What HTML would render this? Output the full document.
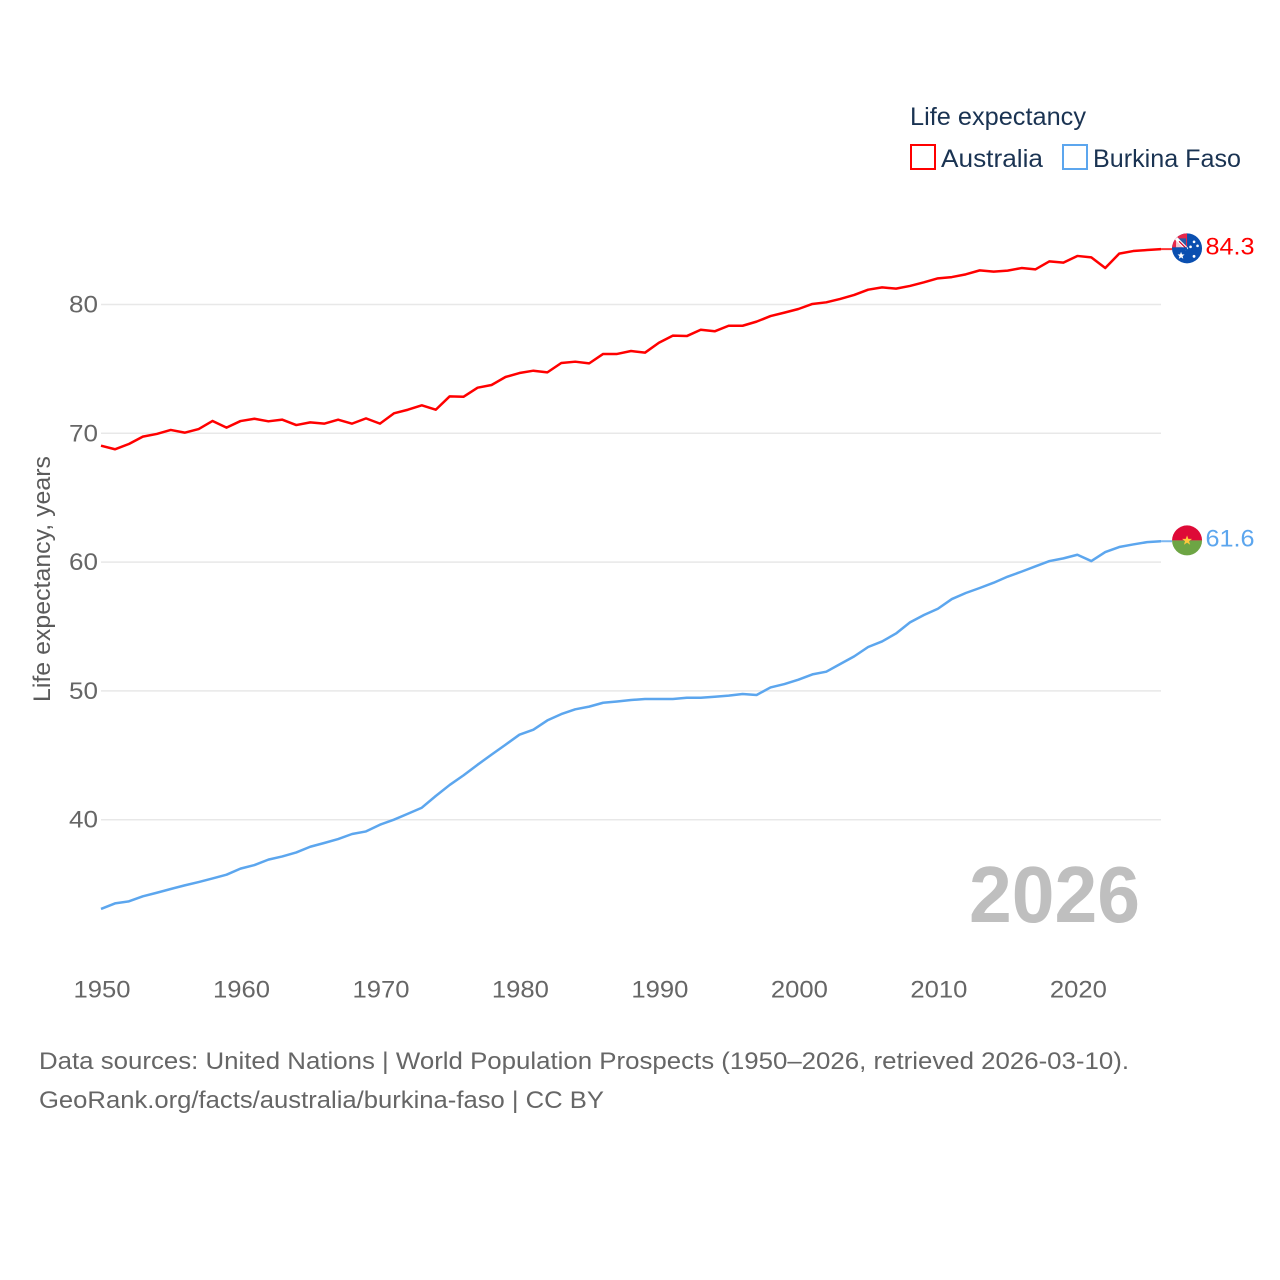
<!DOCTYPE html>
<html lang="en">
<head>
<meta charset="utf-8">
<title>Life expectancy: Australia and Burkina Faso</title>
<style>
html,body{margin:0;padding:0;background:#fff;}
svg{display:block;}
text{font-family:"Liberation Sans",sans-serif;}
</style>
</head>
<body>
<svg id="chart" xmlns="http://www.w3.org/2000/svg" width="1280" height="1280" viewBox="0 0 1280 1280">
  <rect x="0" y="0" width="1280" height="1280" fill="#ffffff"/>
  <g id="grid"></g>
  <g id="yticks"></g>
  <g id="xticks"></g>
  <text transform="translate(50,579) rotate(-90)" text-anchor="middle" font-size="24.5" fill="#5b5b5b" textLength="246" lengthAdjust="spacingAndGlyphs">Life expectancy, years</text>
  <g id="series"></g>
  <text x="969" y="922" font-size="80" font-weight="bold" fill="#bfbfbf" textLength="171" lengthAdjust="spacingAndGlyphs">2026</text>

  <g>
    <text x="910" y="125" font-size="25" fill="#1a3352" textLength="176" lengthAdjust="spacingAndGlyphs">Life expectancy</text>
    <g>
      <rect x="911" y="145" width="24" height="24" fill="#fff" stroke="#ff0000" stroke-width="2"/>
      <text x="941" y="167" font-size="25" fill="#1a3352" textLength="102" lengthAdjust="spacingAndGlyphs">Australia</text>
    </g>
    <g>
      <rect x="1063" y="145" width="24" height="24" fill="#fff" stroke="#5ca6ee" stroke-width="2"/>
      <text x="1093" y="167" font-size="25" fill="#1a3352" textLength="148" lengthAdjust="spacingAndGlyphs">Burkina Faso</text>
    </g>
  </g>

  <defs>
    <clipPath id="auClip"><circle cx="0" cy="0" r="15"/></clipPath>
    <clipPath id="bfClip"><circle cx="0" cy="0" r="15"/></clipPath>
  </defs>
  <g id="flagAU" clip-path="url(#auClip)">
    <rect x="-16" y="-16" width="32" height="32" fill="#0a4fb0"/>
    <rect x="-16" y="-16" width="16" height="16" fill="#e8274a"/>
    <polygon points="-11,-10 -1,-10 -1,0" fill="#2a5aa8"/>
    <polygon points="-11,-10 -11,-1 -2,-1" fill="#f4c6cf"/>
    <path d="M-11,-10 L0,1" stroke="#fff" stroke-width="3.4"/>
    <path d="M-8,-7 L-1,0" stroke="#d80027" stroke-width="1.2"/>
    <rect x="-16" y="-1" width="16" height="3" fill="#0a4fb0"/>
    <polygon points="-6,3.5 -5,6 -2.5,6.2 -4.4,7.8 -3.8,10.4 -6,9 -8.2,10.4 -7.6,7.8 -9.5,6.2 -7,6" fill="#fff"/>
    <circle cx="7" cy="-6.5" r="1.3" fill="#fff"/>
    <circle cx="10.5" cy="-2.5" r="1.3" fill="#fff"/>
    <circle cx="3.5" cy="-1.5" r="1.3" fill="#fff"/>
    <circle cx="7" cy="8" r="1.4" fill="#fff"/>
  </g>
  <g id="flagBF" clip-path="url(#bfClip)">
    <rect x="-16" y="-16" width="32" height="16" fill="#de0a37"/>
    <rect x="-16" y="0" width="32" height="16" fill="#6da544"/>
    <polygon points="0,-5 1.3,-1.5 5,-1.5 2,0.8 3.1,4.3 0,2.2 -3.1,4.3 -2,0.8 -5,-1.5 -1.3,-1.5" fill="#ffc83d"/>
  </g>
  <g id="valueLabels"></g>

  <g>
    <text x="39" y="1069" font-size="24.5" fill="#666666" textLength="1090" lengthAdjust="spacingAndGlyphs">Data sources: United Nations | World Population Prospects (1950–2026, retrieved 2026-03-10).</text>
    <text x="39" y="1108" font-size="24.5" fill="#666666" textLength="565" lengthAdjust="spacingAndGlyphs">GeoRank.org/facts/australia/burkina-faso | CC BY</text>
  </g>
</svg>
<script>
const startYear = 1950;
const xTickYears = [1950, 1960, 1970, 1980, 1990, 2000, 2010, 2020];
const yTickValues = [40, 50, 60, 70, 80];
const endLabels = ['84.3', '61.6'];
const australia = [
  69.04, 68.76, 69.17, 69.74, 69.95, 70.26, 70.05, 70.33, 70.96, 70.44,
  70.95, 71.13, 70.93, 71.06, 70.64, 70.85, 70.75, 71.06, 70.75, 71.16,
  70.75, 71.55, 71.83, 72.17, 71.83, 72.87, 72.84, 73.54, 73.75, 74.37,
  74.68, 74.86, 74.73, 75.46, 75.56, 75.43, 76.16, 76.16, 76.39, 76.26,
  77.03, 77.58, 77.55, 78.04, 77.92, 78.35, 78.35, 78.67, 79.10, 79.37,
  79.65, 80.04, 80.17, 80.43, 80.74, 81.15, 81.33, 81.23, 81.44, 81.72,
  82.03, 82.13, 82.34, 82.65, 82.55, 82.63, 82.83, 82.73, 83.35, 83.25,
  83.77, 83.66, 82.83, 83.95, 84.15, 84.23, 84.30
];
const burkinaFaso = [
  33.07, 33.50, 33.66, 34.05, 34.33, 34.62, 34.90, 35.16, 35.44, 35.73,
  36.20, 36.48, 36.90, 37.15, 37.46, 37.90, 38.19, 38.50, 38.89, 39.09,
  39.61, 40.00, 40.46, 40.93, 41.84, 42.70, 43.45, 44.27, 45.05, 45.82,
  46.60, 46.99, 47.71, 48.20, 48.57, 48.78, 49.08, 49.18, 49.29, 49.37,
  49.37, 49.37, 49.47, 49.47, 49.55, 49.63, 49.76, 49.68, 50.27, 50.53,
  50.87, 51.28, 51.49, 52.09, 52.68, 53.41, 53.84, 54.46, 55.32, 55.89,
  56.38, 57.13, 57.60, 57.99, 58.40, 58.87, 59.26, 59.67, 60.08, 60.29,
  60.57, 60.08, 60.78, 61.17, 61.37, 61.55, 61.62
];

const SVGNS = 'http://www.w3.org/2000/svg';
function xScale(year) { return 101 + (year - startYear) * 13.948; }
function yScale(v) { return 304.5 + (80 - v) * 12.88; }
function make(tag, attrs, parent, text) {
  const el = document.createElementNS(SVGNS, tag);
  for (const k in attrs) el.setAttribute(k, attrs[k]);
  if (text !== undefined) el.textContent = text;
  parent.appendChild(el);
  return el;
}

const gridG = document.getElementById('grid');
const yG = document.getElementById('yticks');
yTickValues.forEach(function (v) {
  const line = make('line', { x1: 101, x2: 1161, y1: yScale(v), y2: yScale(v), stroke: '#e8e8e8', 'stroke-width': 1.5 }, gridG);
  
  
  const label = make('text', { x: 98, y: yScale(v) + 8, 'text-anchor': 'end', 'font-size': 24.5, fill: '#666666', textLength: 29, lengthAdjust: 'spacingAndGlyphs' }, yG, String(v));
  
  
});

const xG = document.getElementById('xticks');
xTickYears.forEach(function (yr) {
  const label = make('text', { x: xScale(yr) + 1, y: 997.5, 'text-anchor': 'middle', 'font-size': 24.5, fill: '#666666', textLength: 57, lengthAdjust: 'spacingAndGlyphs' }, xG, String(yr));
  
  
});

const seriesG = document.getElementById('series');
const labelG = document.getElementById('valueLabels');
function drawSeries(values, color, flagId, endText, lineName, connectorName, labelName) {
  const pts = values.map(function (v, i) { return xScale(startYear + i).toFixed(2) + ',' + yScale(v).toFixed(2); }).join(' ');
  const line = make('polyline', { points: pts, fill: 'none', stroke: color, 'stroke-width': 2.5, 'stroke-linejoin': 'round' }, seriesG);
  
  
  const lastX = xScale(startYear + values.length - 1);
  const lastY = yScale(values[values.length - 1]);
  const conn = make('line', { x1: lastX, x2: lastX + 11, y1: lastY, y2: lastY, stroke: color, 'stroke-width': 2, opacity: 0.8 }, seriesG);
  
  
  document.getElementById(flagId).setAttribute('transform', 'translate(' + (lastX + 26) + ',' + (lastY - 0.8) + ')');
  const label = make('text', { x: lastX + 44.5, y: lastY + 5.2, 'font-size': 24.5, fill: color, textLength: 49, lengthAdjust: 'spacingAndGlyphs' }, labelG, endText);
  
  
}
drawSeries(australia, '#ff0000', 'flagAU', endLabels[0], 'line-australia', 'connector-australia', 'value-label-australia');
drawSeries(burkinaFaso, '#5ca6ee', 'flagBF', endLabels[1], 'line-burkina-faso', 'connector-burkina-faso', 'value-label-burkina-faso');
</script>
</body>
</html>
